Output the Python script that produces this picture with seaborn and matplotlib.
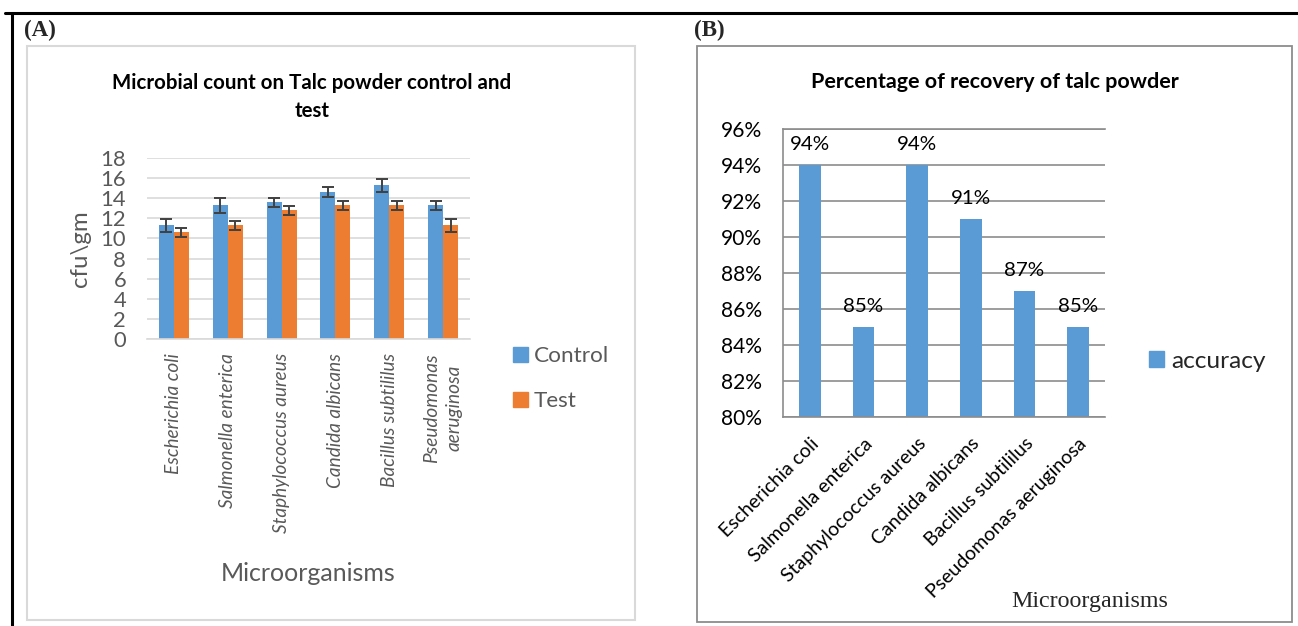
import numpy as np
import pandas as pd
import matplotlib
matplotlib.use("Agg")
import matplotlib.pyplot as plt
import seaborn as sns
from matplotlib.patches import Rectangle
from matplotlib.lines import Line2D

# ---------------- data ----------------
organisms = ["Escherichia coli", "Salmonella enterica", "Staphylococcus aureus",
             "Candida albicans", "Bacillus subtililus", "Pseudomonas aeruginosa"]
labels_a = ["Escherichia coli", "Salmonella enterica", "Staphylococcus aureus",
            "Candida albicans", "Bacillus subtililus", "Pseudomonas\naeruginosa"]
control_vals = [11.3, 13.3, 13.6, 14.6, 15.3, 13.3]
control_err = [0.65, 0.73, 0.43, 0.48, 0.66, 0.45]
test_vals = [10.6, 11.3, 12.8, 13.3, 13.3, 11.3]
test_err = [0.45, 0.45, 0.45, 0.45, 0.45, 0.65]
recovery_pct = [94, 85, 94, 91, 87, 85]
yticks_a = [0, 2, 4, 6, 8, 10, 12, 14, 16, 18]
yticks_b = [80, 82, 84, 86, 88, 90, 92, 94, 96]

BLUE = "#5B9BD5"
ORANGE = "#ED7D31"
GRAY_TXT = "#595959"

sns.set_theme(style="white")
plt.rcParams["font.family"] = ["Lato", "DejaVu Sans"]

W, H = 1298, 626
fig = plt.figure(figsize=(W / 100, H / 100), dpi=100)


def px_axes(x0, y0, x1, y1):
    return fig.add_axes([x0 / W, 1 - y1 / H, (x1 - x0) / W, (y1 - y0) / H])


def fs(px):
    return px * 0.72

# ---------------- frames ----------------
fig.add_artist(Line2D([5 / W, 1], [1 - 13 / H, 1 - 13 / H], color="black", lw=2.2,
                      transform=fig.transFigure))
fig.add_artist(Line2D([12 / W, 12 / W], [0, 1 - 13 / H], color="black", lw=2.2,
                      transform=fig.transFigure))
fig.add_artist(Rectangle((27 / W, 1 - 620 / H), (635 - 27) / W, (620 - 46) / H,
                         transform=fig.transFigure, fill=False, ec="#d9d9d9", lw=1.5))
fig.add_artist(Rectangle((697 / W, 1 - 622 / H), (1292 - 697) / W, (622 - 46) / H,
                         transform=fig.transFigure, fill=False, ec="#8c8c8c", lw=1.3))
fig.text(24 / W, 1 - 30 / H, "(A)", family="Liberation Serif", weight="bold",
         fontsize=fs(23), va="center", ha="left")
fig.text(694 / W, 1 - 30 / H, "(B)", family="Liberation Serif", weight="bold",
         fontsize=fs(23), va="center", ha="left")

# ---------------- panel A ----------------
df_a = pd.DataFrame({
    "organism": labels_a * 2,
    "value": control_vals + test_vals,
    "group": ["Control"] * 6 + ["Test"] * 6,
})
axA = px_axes(147, 158, 470, 339)
sns.barplot(data=df_a, x="organism", y="value", hue="group", order=labels_a,
            hue_order=["Control", "Test"], palette=[BLUE, ORANGE], width=0.56,
            errorbar=None, ax=axA, legend=False, saturation=1, linewidth=0)
for cont, errs in zip(axA.containers, [control_err, test_err]):
    for bar, e in zip(cont, errs):
        axA.errorbar(bar.get_x() + bar.get_width() / 2, bar.get_height(), yerr=e,
                     fmt="none", ecolor="#404040", elinewidth=1.4, capsize=4, capthick=1.4)
axA.set_ylim(0, 18)
axA.set_yticks(yticks_a)
axA.yaxis.grid(True, color="#d9d9d9", lw=1.2)
axA.set_axisbelow(True)
for s in ["left", "right", "top"]:
    axA.spines[s].set_visible(False)
axA.spines["bottom"].set_color("#d9d9d9")
axA.spines["bottom"].set_linewidth(1.2)
axA.tick_params(axis="y", length=0, labelsize=fs(22), labelcolor=GRAY_TXT, pad=15)
axA.tick_params(axis="x", length=0, pad=10)
axA.set_xticks(range(6))
axA.set_xticklabels(labels_a, rotation=90, style="italic", fontsize=fs(19),
                    color=GRAY_TXT, multialignment="center", linespacing=1.4)
axA.set_xlabel("Microorganisms", fontsize=fs(25), color=GRAY_TXT, labelpad=21)
axA.set_ylabel("cfu\\gm", fontsize=fs(24), color=GRAY_TXT, labelpad=7)
axA.set_xlim(-0.5, 5.5)
fig.text(312 / W, 1 - 97 / H, "Microbial count on Talc powder control and\ntest",
         fontsize=fs(20.5), weight="bold", color="black", ha="center", va="center",
         linespacing=1.45, multialignment="center")
handlesA = [Rectangle((0, 0), 1, 1, color=BLUE), Rectangle((0, 0), 1, 1, color=ORANGE)]
fig.legend(handlesA, ["Control", "Test"], loc="upper left",
           bbox_to_anchor=(493 / W, 1 - 326 / H), frameon=False, fontsize=fs(22.5),
           labelcolor=GRAY_TXT, handlelength=0.65, handleheight=0.65, handletextpad=0.25,
           labelspacing=1.1)

# ---------------- panel B ----------------
df_b = pd.DataFrame({"organism": organisms, "recovery": recovery_pct})
axB = px_axes(783, 129, 1105, 417)
sns.barplot(data=df_b, x="organism", y="recovery", color=BLUE, width=0.40,
            saturation=1, ax=axB, linewidth=0)
axB.set_ylim(80, 96)
axB.set_yticks(yticks_b)
axB.set_yticklabels([f"{v}%" for v in yticks_b])
axB.yaxis.grid(True, color="#8c8c8c", lw=1.2)
axB.set_axisbelow(True)
axB.spines["right"].set_visible(False)
for s in ["left", "bottom", "top"]:
    axB.spines[s].set_color("#8c8c8c")
    axB.spines[s].set_linewidth(1.2)
axB.tick_params(axis="y", length=0, labelsize=fs(21), labelcolor="black", pad=15)
axB.tick_params(axis="x", length=0, pad=13)
axB.set_xticks(range(6))
axB.set_xticklabels(organisms, rotation=45, ha="right", rotation_mode="anchor",
                    fontsize=fs(19.5), color="black")
for c in axB.containers:
    axB.bar_label(c, labels=[f"{v}%" for v in recovery_pct], padding=9,
                  fontsize=fs(20.5), color="black")
axB.set_xlabel("")
axB.set_ylabel("")
axB.set_xlim(-0.5, 5.5)
fig.text(994.5 / W, 1 - 82 / H, "Percentage of recovery of talc powder",
         fontsize=fs(21.5), weight="bold", color="black", ha="center", va="center")
fig.text(1090 / W, 1 - 601 / H, "Microorganisms", family="Liberation Serif",
         fontsize=fs(24), ha="center", va="center")
fig.legend([Rectangle((0, 0), 1, 1, color=BLUE)], ["accuracy"], loc="center left",
           bbox_to_anchor=(1127 / W, 1 - 361 / H), frameon=False, fontsize=fs(24.5),
           handlelength=0.6, handleheight=0.6, handletextpad=0.3)

fig.savefig("out.png", dpi=100, facecolor="white")
